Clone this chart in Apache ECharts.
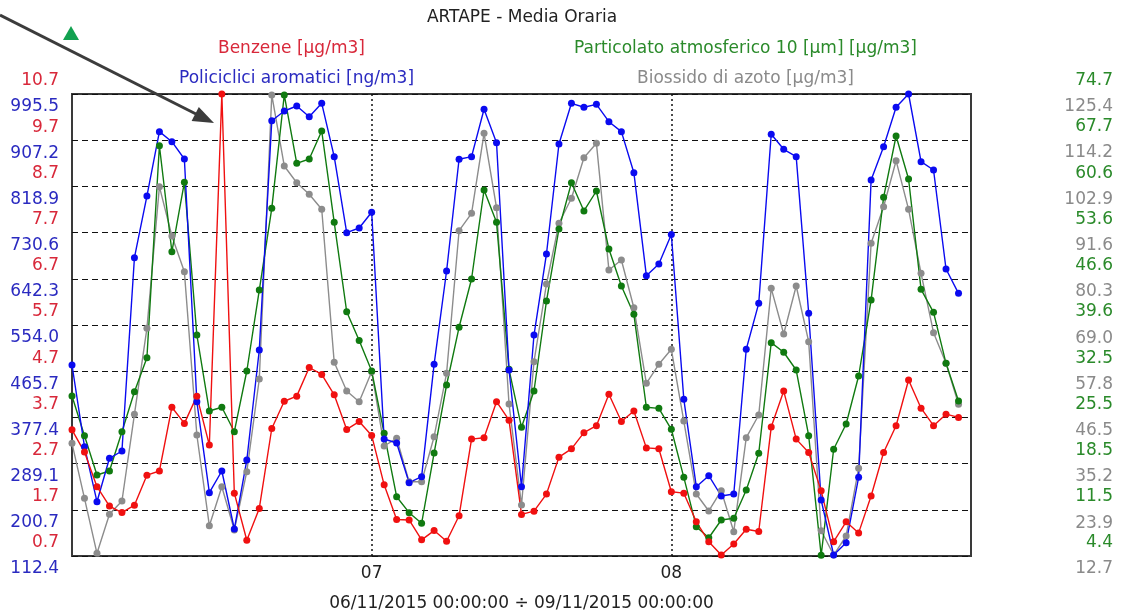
<!DOCTYPE html>
<html><head><meta charset="utf-8">
<script src="https://cdn.jsdelivr.net/npm/echarts@6/dist/echarts.min.js"></script>
<style>html,body{margin:0;padding:0;background:#fff}#c{width:1125px;height:614px}</style>
</head><body><div id="c"></div>
<script>
// ---- data ----
const startLabel = '06/11/2015 00:00:00';
const endLabel = '09/11/2015 00:00:00';
const dayLabels = ['06', '07', '08', '09'];

const benzene = [3.43, 2.95, 2.20, 1.78, 1.64, 1.80, 2.45, 2.54, 3.92, 3.57, 4.16, 3.10, 10.7, 2.06, 1.04, 1.73, 3.46, 4.05, 4.16, 4.78, 4.63, 4.19, 3.44, 3.61,
  3.31, 2.24, 1.49, 1.48, 1.05, 1.25, 1.02, 1.57, 3.23, 3.26, 4.04, 3.64, 1.60, 1.67, 2.04, 2.84, 3.02, 3.37, 3.52, 4.20, 3.61, 3.84, 3.04, 3.02,
  2.09, 2.06, 1.44, 1.01, 0.72, 0.96, 1.28, 1.23, 3.49, 4.27, 3.23, 2.94, 2.11, 1.01, 1.44, 1.20, 2.00, 2.94, 3.52, 4.51, 3.90, 3.52, 3.77, 3.70];

const policiclici = [477.5, 321.3, 216.2, 299.2, 313.1, 682.6, 800.5, 923.5, 904.3, 871.3, 407.3, 233.4, 274.9, 164.0, 295.9, 506.2, 944.5, 963.0, 972.6, 952.1, 977.7, 875.7, 730.4, 739.4,
  769.4, 336.0, 328.4, 252.5, 264.0, 478.8, 657.2, 870.7, 875.7, 966.3, 902.4, 467.9, 244.9, 534.8, 689.7, 899.9, 977.7, 970.1, 975.8, 942.6, 923.5, 845.1, 648.2, 670.6,
  726.9, 411.9, 244.9, 265.9, 227.1, 230.9, 507.5, 595.4, 918.5, 889.8, 875.7, 576.3, 219.4, 114.3, 137.8, 262.8, 831.1, 894.8, 970.1, 995.5, 866.1, 850.2, 661.0, 614.5];

const particolato = [28.75, 22.70, 16.72, 17.33, 23.31, 29.40, 34.57, 66.83, 50.70, 61.26, 38.03, 26.46, 27.03, 23.31, 32.55, 44.87, 57.30, 74.55, 64.15, 64.81, 69.07, 55.17, 41.57, 37.19,
  32.55, 23.07, 13.42, 10.99, 9.38, 20.07, 30.42, 39.20, 46.55, 60.09, 55.17, 32.81, 23.98, 29.51, 43.20, 54.16, 61.20, 56.90, 59.94, 51.11, 45.48, 41.18, 27.03, 26.87,
  23.68, 16.37, 8.86, 7.18, 9.88, 10.14, 14.44, 20.03, 36.86, 35.40, 32.70, 22.70, 4.50, 20.64, 24.49, 31.79, 43.35, 58.98, 68.31, 61.76, 44.98, 41.48, 33.72, 27.98];

const biossido = [40.19, 26.78, 13.36, 22.87, 26.12, 47.27, 68.25, 102.79, 90.76, 82.05, 42.22, 20.09, 29.60, 19.04, 33.26, 55.88, 125.16, 107.84, 103.76, 100.93, 97.27, 59.95, 52.95, 50.34,
  57.66, 39.53, 41.41, 30.82, 30.82, 41.80, 57.27, 92.05, 96.30, 115.81, 97.67, 49.78, 25.14, 60.10, 79.05, 93.86, 99.96, 109.86, 113.37, 82.47, 84.91, 73.27, 54.83, 59.46,
  63.12, 45.63, 27.82, 23.68, 28.63, 18.63, 41.56, 47.10, 78.00, 66.85, 78.56, 64.98, 18.87, 12.94, 17.58, 34.09, 88.98, 97.91, 109.13, 97.27, 81.66, 67.17, 59.71, 49.71];

const benzeneTicks = [0.7, 1.7, 2.7, 3.7, 4.7, 5.7, 6.7, 7.7, 8.7, 9.7, 10.7];
const policicliciTicks = [112.4, 200.7, 289.1, 377.4, 465.7, 554.0, 642.3, 730.6, 818.9, 907.2, 995.5];
const particolatoTicks = [4.4, 11.5, 18.5, 25.5, 32.5, 39.6, 46.6, 53.6, 60.6, 67.7, 74.7];
const biossidoTicks = [12.7, 23.9, 35.2, 46.5, 57.8, 69.0, 80.3, 91.6, 102.9, 114.2, 125.4];

const names = {
  benzene: 'Benzene [µg/m3]',
  policiclici: 'Policiclici aromatici [ng/m3]',
  particolato: 'Particolato atmosferico 10 [µm] [µg/m3]',
  biossido: 'Biossido di azoto [µg/m3]'
};

// hourly categories over 3 days (73 boundaries)
const hours = [];
for (let d = 0; d < 3; d++) for (let h = 0; h < 24; h++) hours.push(dayLabels[d] + ' ' + String(h).padStart(2, '0'));
hours.push(dayLabels[3] + ' 00');

const FONT = 'DejaVu Sans';
const C = { red: '#f01010', blue: '#0a0af0', green: '#107a10', gray: '#8c8c8c' };
const LC = { red: '#d8283a', blue: '#2a2ac0', green: '#2a8a2a', gray: '#8a8a8a' };

function valAxis(pos, min, max, ticks, color, up, margin, align) {
  return {
    type: 'value', position: pos, min: min, max: max,
    axisLine: { show: false }, axisTick: { show: false }, splitLine: { show: false },
    axisLabel: {
      customValues: ticks, color: color, fontFamily: FONT, fontSize: 17,
      margin: margin, align: align, verticalAlign: up ? 'bottom' : 'top',
      lineHeight: 26,
      formatter: v => Number(v).toFixed(1)
    }
  };
}

function legendAt(name, left, top, color) {
  return {
    data: [name], left: left, top: top, icon: 'none', itemWidth: 0, itemHeight: 10,
    padding: 0, selectedMode: false,
    textStyle: { color: color, fontFamily: FONT, fontSize: 17 }
  };
}

function lineSeries(name, data, yIdx, color) {
  return {
    name: name, type: 'line', data: data, yAxisIndex: yIdx,
    symbol: 'circle', symbolSize: 7, showAllSymbol: true,
    lineStyle: { color: color, width: 1.4 }, itemStyle: { color: color },
    emphasis: { disabled: true }
  };
}

const isDay = i => i === 24 || i === 48;

const option = {
  backgroundColor: '#fff',
  animation: false,
  title: {
    text: 'ARTAPE - Media Oraria', left: 522, textAlign: 'center', top: 9, padding: 0,
    textStyle: { color: '#222', fontFamily: FONT, fontSize: 17, fontWeight: 'normal' }
  },
  legend: [
    legendAt(names.benzene, 213, 40, LC.red),
    legendAt(names.policiclici, 174, 70, LC.blue),
    legendAt(names.particolato, 569, 40, LC.green),
    legendAt(names.biossido, 632, 70, LC.gray)
  ],
  grid: { left: 72, right: 154, top: 94, bottom: 58, outerBoundsMode: 'none', containLabel: false,
    show: true, borderColor: '#3a3a3a', borderWidth: 2, backgroundColor: 'transparent' },
  xAxis: {
    type: 'category', data: hours, boundaryGap: false,
    name: startLabel + ' ÷ ' + endLabel, nameLocation: 'middle', nameGap: 39,
    nameTextStyle: { color: '#222', fontFamily: FONT, fontSize: 17 },
    axisLine: { show: false }, axisTick: { show: false },
    axisLabel: { interval: (i) => isDay(i), formatter: v => v.slice(0, 2), color: '#222', fontFamily: FONT, fontSize: 17, margin: 9 },
    splitLine: { show: true, interval: (i) => isDay(i), lineStyle: { color: '#111', type: [2, 3], width: 1.5 } }
  },
  yAxis: [
    valAxis('left', 0.7, 10.7, benzeneTicks, LC.red, true, 13, 'right'),
    valAxis('left', 112.4, 995.5, policicliciTicks, LC.blue, false, 13, 'right'),
    valAxis('right', 4.4, 74.7, particolatoTicks, LC.green, true, 142, 'right'),
    valAxis('right', 12.7, 125.4, biossidoTicks, LC.gray, false, 142, 'right'),
    { type: 'value', position: 'left', min: 0, max: 10, interval: 1,
      axisLine: { show: false }, axisTick: { show: false }, axisLabel: { show: false },
      splitLine: { show: true, lineStyle: { color: '#111', type: [6, 4], width: 1.2 } } }
  ],
  series: [
    lineSeries(names.biossido, biossido, 3, C.gray),
    lineSeries(names.particolato, particolato, 2, C.green),
    lineSeries(names.policiclici, policiclici, 1, C.blue),
    lineSeries(names.benzene, benzene, 0, C.red)
  ],
  graphic: [
    { type: 'line', shape: { x1: 0, y1: 15, x2: 196, y2: 114 }, style: { stroke: '#3c3c3c', lineWidth: 3 }, z: 100 },
    { type: 'polygon', shape: { points: [[214, 123], [191.6, 121.1], [198.8, 106.9]] }, style: { fill: '#3c3c3c' }, z: 100 },
    { type: 'polygon', shape: { points: [[63, 40], [79, 40], [71, 26]] }, style: { fill: '#12a150' }, z: 100 }
  ]
};

const chart = echarts.init(document.getElementById('c'), null, { renderer: 'canvas' });
chart.setOption(option);
</script>
</body></html>
